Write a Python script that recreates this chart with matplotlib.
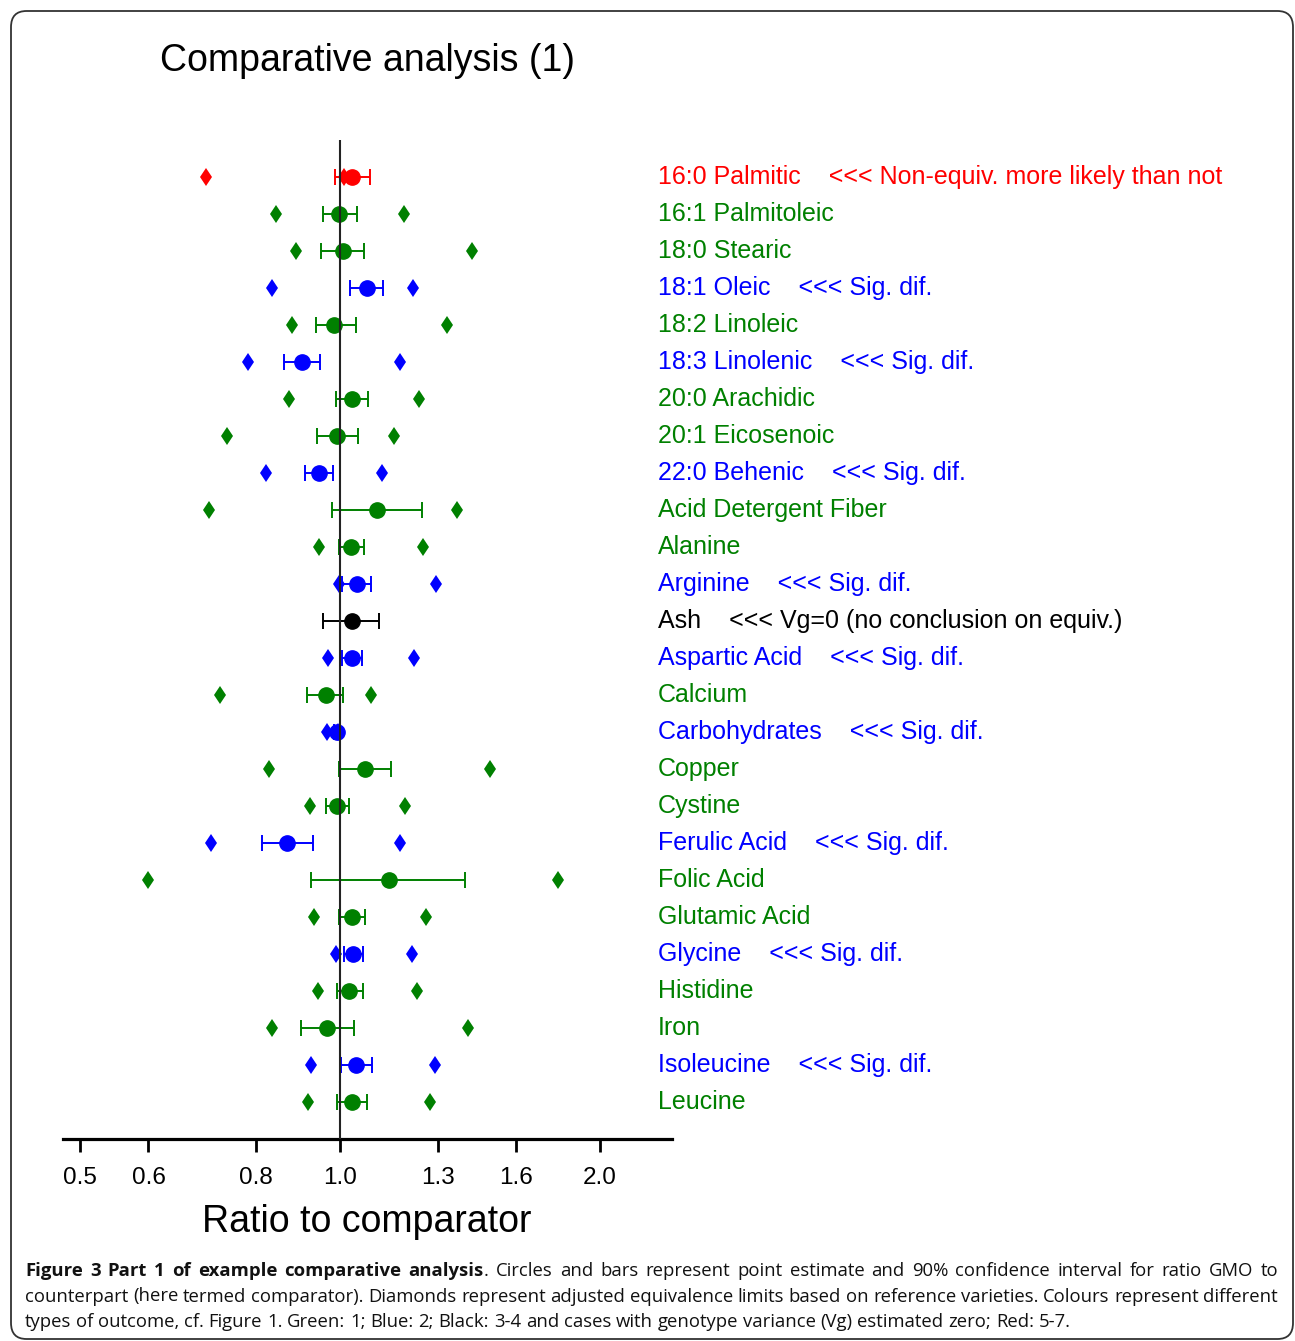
import numpy as np
import matplotlib
matplotlib.use("Agg")
import matplotlib.pyplot as plt
from matplotlib.patches import FancyBboxPatch
from matplotlib.transforms import blended_transform_factory

# ---- data -----------------------------------------------------------------
endpoints = [
    "16:0 Palmitic", "16:1 Palmitoleic", "18:0 Stearic", "18:1 Oleic",
    "18:2 Linoleic", "18:3 Linolenic", "20:0 Arachidic", "20:1 Eicosenoic",
    "22:0 Behenic", "Acid Detergent Fiber", "Alanine", "Arginine", "Ash",
    "Aspartic Acid", "Calcium", "Carbohydrates", "Copper", "Cystine",
    "Ferulic Acid", "Folic Acid", "Glutamic Acid", "Glycine", "Histidine",
    "Iron", "Isoleucine", "Leucine",
]
outcome = [
    "red", "green", "green", "blue", "green", "blue", "green", "green",
    "blue", "green", "green", "blue", "black", "blue", "green", "blue",
    "green", "green", "blue", "green", "green", "blue", "green", "green",
    "blue", "green",
]
notes = [
    "<<< Non-equiv. more likely than not", "", "", "<<< Sig. dif.", "",
    "<<< Sig. dif.", "", "", "<<< Sig. dif.", "", "", "<<< Sig. dif.",
    "<<< Vg=0 (no conclusion on equiv.)", "<<< Sig. dif.", "", "<<< Sig. dif.",
    "", "", "<<< Sig. dif.", "", "", "<<< Sig. dif.", "", "", "<<< Sig. dif.", "",
]
# ratio GMO / comparator: point estimate and 90% confidence interval
estimate = [1.032, 0.998, 1.007, 1.074, 0.985, 0.904, 1.033, 0.993, 0.946,
            1.103, 1.030, 1.047, 1.033, 1.033, 0.963, 0.992, 1.068, 0.993,
            0.869, 1.139, 1.033, 1.036, 1.025, 0.967, 1.043, 1.033]
ci_low = [0.988, 0.955, 0.951, 1.028, 0.937, 0.861, 0.990, 0.940, 0.912,
          0.978, 0.997, 1.005, 0.956, 1.005, 0.916, 0.983, 0.998, 0.963,
          0.813, 0.926, 0.998, 1.010, 0.993, 0.901, 1.003, 0.993]
ci_high = [1.082, 1.046, 1.066, 1.122, 1.043, 0.949, 1.078, 1.049, 0.982,
           1.244, 1.066, 1.085, 1.111, 1.061, 1.008, 0.999, 1.147, 1.025,
           0.930, 1.397, 1.070, 1.062, 1.062, 1.038, 1.088, 1.074]
# adjusted equivalence limits from reference varieties (none for Ash)
equiv_low = [0.700, 0.843, 0.889, 0.835, 0.881, 0.782, 0.874, 0.739, 0.822,
             0.705, 0.945, 0.998, np.nan, 0.968, 0.726, 0.966, 0.828, 0.923,
             0.708, 0.600, 0.934, 0.989, 0.944, 0.835, 0.926, 0.919]
equiv_high = [1.012, 1.185, 1.423, 1.215, 1.330, 1.172, 1.235, 1.155, 1.120,
              1.365, 1.248, 1.291, np.nan, 1.218, 1.087, 0.995, 1.492, 1.190,
              1.174, 1.790, 1.258, 1.213, 1.228, 1.406, 1.288, 1.272]
x_ticks = [0.5, 0.6, 0.8, 1.0, 1.3, 1.6, 2.0]
x_tick_labels = ["0.5", "0.6", "0.8", "1.0", "1.3", "1.6", "2.0"]

caption_lines = [
    [("Figure 3 Part 1 of example comparative analysis", "bold"),
     (". Circles and bars represent point estimate and 90% confidence interval for ratio GMO to", "normal")],
    [("counterpart (here termed comparator). Diamonds represent adjusted equivalence limits based on reference varieties. Colours represent different", "normal")],
    [("types of outcome, cf. Figure 1. Green: 1; Blue: 2; Black: 3-4 and cases with genotype variance (Vg) estimated zero; Red: 5-7.", "normal")],
]

# ---- styling --------------------------------------------------------------
palette = {"red": "#ff0000", "green": "#008000", "blue": "#0000ff", "black": "#000000"}
SANS = ["Liberation Sans", "DejaVu Sans"]

W, H, DPI = 1295, 1341, 100
fig = plt.figure(figsize=(W / DPI, H / DPI), dpi=DPI)


def fx(px):
    return px / W


def fy(py):
    return 1 - py / H


# rounded frame around the whole figure
frame = FancyBboxPatch((fx(11), fy(1339)), fx(1293) - fx(11), fy(11) - fy(1339),
                       boxstyle="round,pad=0,rounding_size=0.012",
                       transform=fig.transFigure, fill=False,
                       edgecolor="#333333", linewidth=1.3)
fig.patches.append(frame)

ax = fig.add_axes([fx(63), fy(1139), fx(672) - fx(63), fy(140) - fy(1139)])
ax.set_xscale("log")
ax.set_xlim(np.exp((63 - 340) / 375), np.exp((672 - 340) / 375))
ax.set_ylim(25.99, -1.008)

rows = np.arange(len(endpoints))
for i in rows:
    c = palette[outcome[i]]
    lo, hi = equiv_low[i], equiv_high[i]
    if not np.isnan(lo):
        ax.plot([lo, hi], [i, i], linestyle="none", marker="d", markersize=9.5,
                color=c, markeredgewidth=0, zorder=2)
    est = estimate[i]
    ax.errorbar([est], [i], xerr=[[est - ci_low[i]], [ci_high[i] - est]],
                fmt="o", markersize=11, color=c, ecolor=c, mec=c, mfc=c,
                elinewidth=1.4, capsize=6, capthick=1.4, zorder=3)

ax.axvline(1.0, color="#222222", linewidth=1.5, zorder=5)

for s in ("top", "left", "right"):
    ax.spines[s].set_visible(False)
ax.spines["bottom"].set_linewidth(2.3)
ax.set_yticks([])
ax.set_xticks(x_ticks)
ax.set_xticklabels(x_tick_labels, fontsize=17.5, family=SANS)
ax.xaxis.set_minor_locator(matplotlib.ticker.NullLocator())
ax.tick_params(axis="x", direction="out", length=9.5, width=2.0, pad=11)

# endpoint labels to the right of the panel
lab_tr = blended_transform_factory(fig.transFigure, ax.transData)
for i in rows:
    txt = endpoints[i] + ("    " + notes[i] if notes[i] else "")
    ax.text(fx(658), i, txt, transform=lab_tr, color=palette[outcome[i]],
            fontsize=18, family=SANS, va="center", ha="left", clip_on=False)

fig.text(fx(368), fy(61), "Comparative analysis (1)", fontsize=27,
         family=SANS, ha="center", va="center")
fig.text(fx(367), fy(1222), "Ratio to comparator", fontsize=27,
         family=SANS, ha="center", va="center")

# caption below the chart: bold lead-in, normal text, justified lines
renderer = fig.canvas.get_renderer()
CAP_FONT = ["Open Sans", "DejaVu Sans"]
CAP_LEFT, CAP_RIGHT = 25.0, 1278.0


def tokens(segments):
    out = []
    for text, weight in segments:
        parts = text.split(" ")
        for j, p in enumerate(parts):
            if p == "":
                continue
            glue = (j == 0 and len(out) > 0)
            out.append((p, weight, glue))
    return out


def text_w(s, size, weight):
    t = fig.text(0, 0, s, fontsize=size, fontweight=weight, family=CAP_FONT)
    w = t.get_window_extent(renderer).width
    t.remove()
    return w


def natural_width(segments, size):
    toks = tokens(segments)
    sp = text_w("a a", size, "normal") - text_w("aa", size, "normal")
    total = sum(text_w(p, size, wt) for p, wt, _ in toks)
    total += sp * sum(1 for _, _, g in toks[1:] if not g)
    return total


base = 12.0
widest = max(natural_width(seg, base) for seg in caption_lines)
cap_size = base * (CAP_RIGHT - CAP_LEFT - 8) / widest
space_w = text_w("a a", cap_size, "normal") - text_w("aa", cap_size, "normal")

for k, segments in enumerate(caption_lines):
    toks = tokens(segments)
    widths = [text_w(p, cap_size, wt) for p, wt, _ in toks]
    n_gaps = sum(1 for _, _, g in toks[1:] if not g)
    if k < len(caption_lines) - 1 and n_gaps:
        gap = (CAP_RIGHT - CAP_LEFT - sum(widths)) / n_gaps
    else:
        gap = space_w
    x = CAP_LEFT
    y = 1271 + 25.5 * k
    for (p, wt, glue), w in zip(toks, widths):
        if x > CAP_LEFT and not glue:
            x += gap
        fig.text(fx(x), fy(y), p, fontsize=cap_size, fontweight=wt,
                 family=CAP_FONT, ha="left", va="center", color="#111111")
        x += w

fig.savefig("out.png", dpi=DPI)
